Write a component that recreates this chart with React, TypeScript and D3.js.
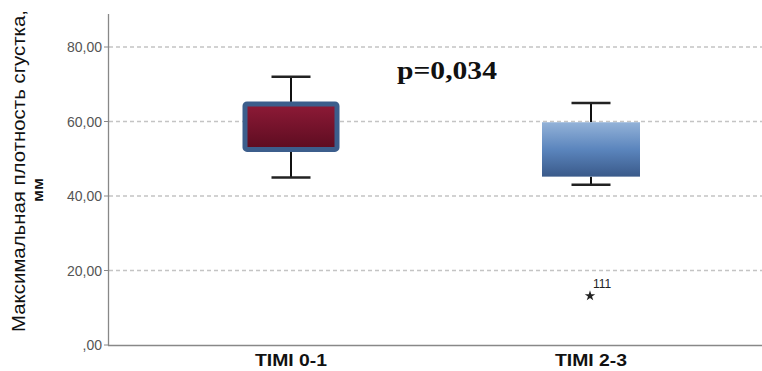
import React from "react";
import * as d3 from "d3";

const categories = ["TIMI 0-1", "TIMI 2-3"];
const whiskerLow = [45.0, 43.0];
const q1 = [52.5, 45.2];
const q3 = [64.7, 59.8];
const whiskerHigh = [72.0, 65.0];
const outliers = [{ cat: 1, value: 13.2, label: "111" }];
const yTicks = [0, 20, 40, 60, 80];
const yTickLabels = [",00", "20,00", "40,00", "60,00", "80,00"];
const pText = "p=0,034";

const W = 762;
const H = 371;

export default function App() {
  const y = d3.scaleLinear().domain([0, 80]).range([345, 47]);
  const centers = [291, 591];
  const boxW = [92, 98];
  const capW = 39;
  const star = d3.symbol(d3.symbolStar).size(34)() as string;
  return (
    <div style={{ position: "absolute", left: 0, top: 0 }}>
      <svg width={W} height={H} style={{ display: "block" }}>
        <defs>
          <linearGradient id="g1" x1="0" y1="0" x2="0" y2="1">
            <stop offset="0" stopColor="#8e1a37" />
            <stop offset="1" stopColor="#5c0c20" />
          </linearGradient>
          <linearGradient id="g2" x1="0" y1="0" x2="0" y2="1">
            <stop offset="0" stopColor="#93b2d8" />
            <stop offset="0.5" stopColor="#5b85bd" />
            <stop offset="1" stopColor="#3a5a8a" />
          </linearGradient>
        </defs>
        <rect width={W} height={H} fill="#fff" />
        {yTicks.filter((t) => t > 0).map((t) => (
          <line key={t} x1={109} x2={W} y1={y(t)} y2={y(t)} stroke="#c4c4c4" strokeWidth={1.3} strokeDasharray="4,3" />
        ))}
        {yTicks.map((t, i) => (
          <g key={"l" + t}>
            <line x1={104} x2={108} y1={y(t)} y2={y(t)} stroke="#888" strokeWidth={1} />
            <text x={102} y={y(t) + 5} textAnchor="end" fontFamily="Liberation Sans, Arial, sans-serif" fontSize={14} fill="#555">
              {yTickLabels[i]}
            </text>
          </g>
        ))}
        <line x1={108.5} x2={108.5} y1={14} y2={345.5} stroke="#888" strokeWidth={1.3} />
        <line x1={108} x2={W} y1={345.5} y2={345.5} stroke="#888" strokeWidth={1.3} />
        {categories.map((c, i) => {
          const cx = centers[i];
          const bw = boxW[i];
          return (
            <g key={c}>
              <line x1={cx} x2={cx} y1={y(whiskerHigh[i])} y2={y(q3[i])} stroke="#111" strokeWidth={2} />
              <line x1={cx} x2={cx} y1={y(q1[i])} y2={y(whiskerLow[i])} stroke="#111" strokeWidth={2} />
              <line x1={cx - capW / 2} x2={cx + capW / 2} y1={y(whiskerHigh[i])} y2={y(whiskerHigh[i])} stroke="#222" strokeWidth={2.5} />
              <line x1={cx - capW / 2} x2={cx + capW / 2} y1={y(whiskerLow[i])} y2={y(whiskerLow[i])} stroke="#222" strokeWidth={2.5} />
              <rect
                x={cx - bw / 2}
                y={y(q3[i])}
                width={bw}
                height={y(q1[i]) - y(q3[i])}
                fill={i === 0 ? "url(#g1)" : "url(#g2)"}
                stroke={i === 0 ? "#3c5e8c" : "none"}
                strokeWidth={i === 0 ? 5 : 0}
                rx={i === 0 ? 2 : 0}
              />
              <text x={cx} y={366} textAnchor="middle" textLength={72} lengthAdjust="spacingAndGlyphs" fontFamily="Liberation Sans, Arial, sans-serif" fontWeight="bold" fontSize={16} fill="#111">
                {c}
              </text>
            </g>
          );
        })}
        {outliers.map((o) => (
          <g key={o.label}>
            <path d={star} transform={`translate(${centers[o.cat] - 1},${y(o.value)})`} fill="#222" />
            <text x={centers[o.cat] + 2} y={y(o.value) - 8} fontFamily="Liberation Sans, Arial, sans-serif" fontSize={12} fill="#222">
              {o.label}
            </text>
          </g>
        ))}
        <text x={447} y={79} textAnchor="middle" textLength={100} lengthAdjust="spacingAndGlyphs" fontFamily="Liberation Serif, Times New Roman, serif" fontWeight="bold" fontSize={25} fill="#111">
          {pText}
        </text>
        <text transform="translate(25,171) rotate(-90)" textAnchor="middle" textLength={322} lengthAdjust="spacingAndGlyphs" fontFamily="Liberation Sans, Arial, sans-serif" fontSize={17.5} fill="#111">
          Максимальная плотность сгустка,
        </text>
        <text transform="translate(43,190) rotate(-90)" textAnchor="middle" textLength={24} lengthAdjust="spacingAndGlyphs" fontFamily="Liberation Sans, Arial, sans-serif" fontWeight="bold" fontSize={15} fill="#111">
          мм
        </text>
      </svg>
    </div>
  );
}
